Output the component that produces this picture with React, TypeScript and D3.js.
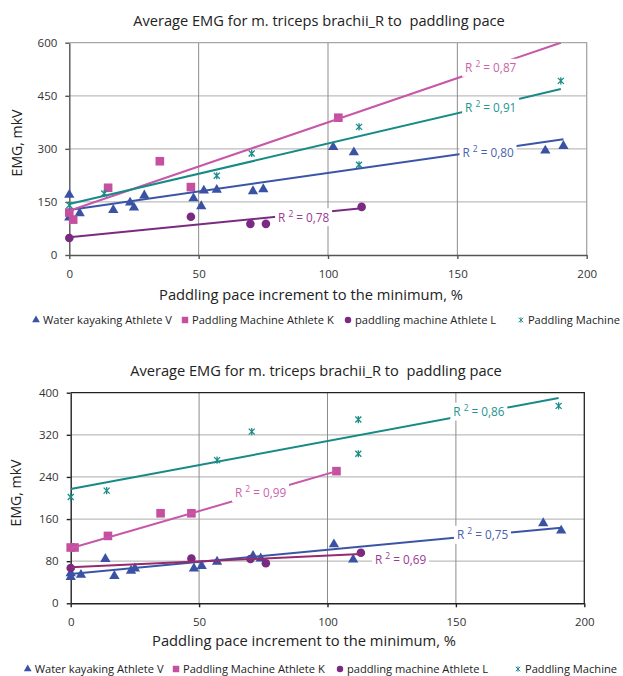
import { useEffect, useRef } from "react";
import * as d3 from "d3";

const seriesNames = ["Water kayaking Athlete V", "Paddling Machine Athlete K", "paddling machine Athlete L", "Paddling Machine"];
const xTicks = [0, 50, 100, 150, 200];
const yTicksTop = [0, 150, 300, 450, 600];
const yTicksBottom = [0, 80, 160, 240, 320, 400];
const chartTitle = "Average EMG for m. triceps brachii_R to  paddling pace";
const xTitle = "Paddling pace increment to the minimum, %";
const yTitle = "EMG, mkV";

// top chart points [pace %, EMG]
const topAthleteV = [[0, 170], [0, 106], [4, 118], [17, 127], [23.5, 148], [25, 134], [29, 168], [48, 160], [51, 138], [52, 182], [57, 184], [71, 180], [75, 186], [102, 305], [110, 290], [184, 295], [191, 308]];
const topAthleteK = [[0, 120], [1.5, 100], [15, 190], [35, 265], [47, 192], [104, 388]];
const topAthleteL = [[0, 48], [47, 108], [70, 88], [76, 88], [113, 136]];
const topMachine = [[0, 141], [13.5, 174], [57, 224], [70.5, 287], [112, 362], [112, 255], [190, 492]];
// trend lines [x0, y0, x1, y1]
const topTrends = [[0, 127, 191, 327], [0, 125, 190, 600], [0, 50, 113, 132], [0, 144, 190, 469]];
const topR2 = ["0,80", "0,87", "0,78", "0,91"];
const topLabelAt = [[152, 291], [153, 529], [80.7, 107], [153, 418]];

// bottom chart points
const botAthleteV = [[0, 50], [0, 57], [4, 54], [13.5, 84], [17, 52], [23.5, 62], [25, 66], [48, 66], [51, 71], [57, 79], [71, 90], [74, 85], [102.5, 112], [110, 83], [184, 152], [191, 138]];
const botAthleteK = [[0, 106], [1.5, 106], [14.5, 128], [35, 171], [47, 171], [103.5, 251]];
const botAthleteL = [[0, 67], [47, 85], [70, 84], [76, 76], [113, 96]];
const botMachine = [[0, 202], [14, 214], [57, 272], [70.5, 326], [112, 349], [112, 284], [190, 375]];
const botTrends = [[0, 55.6, 191, 143.6], [0, 104.4, 103.6, 251], [0, 68.3, 113, 93.6], [0, 217, 190, 390]];
const botR2 = ["0,75", "0,99", "0,69", "0,86"];
const botLabelAt = [[150.4, 130], [64, 209.5], [118.5, 84], [149, 364]];

const markerColors = ["#3a52a4", "#c550a0", "#7b2a82", "#1b8c89"];
const labelColors = ["#4a60b0", "#cc62ac", "#9a3a92", "#23958f"];
const FONT = "'Open Sans', 'Noto Sans', sans-serif";

// shrink/grow a text's font so it spans the given width
function fitWidth(sel, base, width) {
  sel.attr("font-size", base);
  const len = sel.node().getComputedTextLength();
  const size = len ? base * width / len : base;
  sel.attr("font-size", size);
  return size;
}

function marker(sel, kind, color) {
  if (kind === 0) {
    sel.append("path").attr("d", d3.symbol(d3.symbolTriangle, 46)()).attr("fill", color);
  } else if (kind === 1) {
    sel.append("rect").attr("x", -4.3).attr("y", -4.3).attr("width", 8.6).attr("height", 8.6).attr("fill", color);
  } else if (kind === 2) {
    sel.append("circle").attr("r", 4.3).attr("fill", color);
  } else {
    sel.append("path")
      .attr("d", "M-3,-3L3,3M-3,3L3,-3M0,-3.6V3.6")
      .attr("stroke", color).attr("stroke-width", 1.3).attr("fill", "none");
  }
}

function drawChart(root, cfg) {
  const g = root.append("g");
  const x = d3.scaleLinear().domain([0, 200]).range(cfg.xRange);
  const y = d3.scaleLinear().domain([0, cfg.yTicks[cfg.yTicks.length - 1]]).range(cfg.yRange);
  const top = y.range()[1];
  const clipId = "clip" + cfg.id;

  g.append("clipPath").attr("id", clipId).append("rect")
    .attr("x", x(0)).attr("y", top)
    .attr("width", x(200) - x(0)).attr("height", y(0) - top);

  // title
  const title = g.append("text")
    .attr("x", cfg.titleX).attr("y", cfg.titleY)
    .attr("text-anchor", "middle")
    .style("white-space", "pre")
    .attr("fill", "#222")
    .text(chartTitle);
  fitWidth(title, 14, 372);

  // grid
  g.selectAll(".hgrid").data(cfg.yTicks.slice(1, -1)).join("line")
    .attr("x1", x(0)).attr("x2", x(200))
    .attr("y1", d => y(d)).attr("y2", d => y(d))
    .attr("stroke", "#bdbdbd").attr("stroke-width", 1.3);
  g.selectAll(".vgrid").data(xTicks.slice(1, -1)).join("line")
    .attr("x1", d => x(d)).attr("x2", d => x(d))
    .attr("y1", y(0)).attr("y2", top)
    .attr("stroke", "#8c8c8c").attr("stroke-width", 1);
  // frame top/right
  g.append("path")
    .attr("d", `M${x(0)},${top}H${x(200)}V${y(0)}`)
    .attr("fill", "none").attr("stroke", cfg.frameColor).attr("stroke-width", 1.3);

  // axes
  const yAxis = g.append("g").attr("transform", `translate(${x(0)},0)`)
    .call(d3.axisLeft(y).tickValues(cfg.yTicks).tickSize(4).tickSizeOuter(0).tickPadding(8));
  const xAxis = g.append("g").attr("transform", `translate(0,${y(0)})`)
    .call(d3.axisBottom(x).tickValues(xTicks).tickSize(4).tickSizeOuter(0).tickPadding(11));
  [yAxis, xAxis].forEach(a => {
    a.selectAll("path, line").attr("stroke", cfg.axisColor).attr("stroke-width", 1.4);
    a.selectAll("text").attr("font-family", FONT).attr("font-size", 11.5).attr("fill", "#333");
  });

  // axis titles
  const xt = g.append("text")
    .attr("x", cfg.xTitleX).attr("y", cfg.xTitleY)
    .attr("text-anchor", "middle").attr("fill", "#222")
    .text(xTitle);
  fitWidth(xt, 14, 304);
  const yt = g.append("text")
    .attr("transform", `translate(${cfg.yTitleX},${cfg.yTitleY}) rotate(-90)`)
    .attr("text-anchor", "middle").attr("fill", "#222")
    .text(yTitle);
  fitWidth(yt, 14, 67);

  // points
  cfg.series.forEach((pts, i) => {
    g.selectAll(".pt" + i).data(pts).join("g")
      .attr("transform", d => `translate(${x(d[0])},${y(d[1])})`)
      .each(function () { marker(d3.select(this), i, markerColors[i]); });
  });

  // trend lines
  const lineColors = cfg.lineColors;
  g.append("g").attr("clip-path", `url(#${clipId})`)
    .selectAll("line").data(cfg.trends).join("line")
    .attr("x1", d => x(d[0])).attr("y1", d => y(d[1]))
    .attr("x2", d => x(d[2])).attr("y2", d => y(d[3]))
    .attr("stroke", (d, i) => lineColors[i]).attr("stroke-width", 2);

  // R² labels
  cfg.labelAt.forEach((p, i) => {
    const lg = g.append("g").attr("transform", `translate(${x(p[0])},${y(p[1])})`);
    lg.append("rect").attr("x", -3).attr("y", -9).attr("width", 57).attr("height", 18).attr("fill", "#fff");
    const t = lg.append("text").attr("y", 4.5).attr("font-size", 12.5).attr("fill", labelColors[i]);
    t.append("tspan").text("R ");
    t.append("tspan").attr("dy", -5).attr("font-size", 8.5).text("2");
    t.append("tspan").attr("dy", 5).text(" = " + cfg.r2[i]);
    fitWidth(t, 12.5, 51);
  });

  // legend
  const leg = g.selectAll(".leg").data(seriesNames).join("g");
  let legendSize = 11;
  leg.each(function (d, i) {
    const s = d3.select(this);
    const m = s.append("g").attr("transform", "scale(0.75)");
    marker(m, i, markerColors[i]);
    const t = s.append("text").attr("x", 7).attr("y", 4).attr("fill", "#222").text(d);
    if (i === 0) legendSize = fitWidth(t, 11, 129);
    t.attr("font-size", legendSize);
    // keep the last entry inside the page
    const len = t.node().getComputedTextLength();
    const lx = Math.min(cfg.legendX[i], 620 - 7 - len);
    s.attr("transform", `translate(${lx},${cfg.legendY})`);
  });
}

export default function App() {
  const svgRef = useRef(null);

  useEffect(() => {
    const svg = d3.select(svgRef.current);
    svg.selectAll("*").remove();
    svg.attr("font-family", FONT);

    drawChart(svg, {
      id: "top",
      series: [topAthleteV, topAthleteK, topAthleteL, topMachine],
      trends: topTrends, r2: topR2, labelAt: topLabelAt,
      yTicks: yTicksTop,
      xRange: [69.3, 586.7], yRange: [255, 42.7],
      frameColor: "#a6a6a6", axisColor: "#555",
      lineColors: ["#3b55a6", "#c757a8", "#7b2a82", "#178a86"],
      titleX: 319, titleY: 26,
      xTitleX: 311, xTitleY: 300,
      yTitleX: 22, yTitleY: 143,
      legendX: [36, 185, 348, 530], legendY: 320,
    });

    drawChart(svg, {
      id: "bot",
      series: [botAthleteV, botAthleteK, botAthleteL, botMachine],
      trends: botTrends, r2: botR2, labelAt: botLabelAt,
      yTicks: yTicksBottom,
      xRange: [70.7, 584.3], yRange: [603.3, 392.7],
      frameColor: "#222", axisColor: "#222",
      lineColors: ["#3b55a6", "#c757a8", "#962a6e", "#178a86"],
      titleX: 316, titleY: 376,
      xTitleX: 304, xTitleY: 646,
      yTitleX: 21, yTitleY: 493,
      legendX: [27.7, 176, 340, 518], legendY: 669,
    });
  }, []);

  return (
    <svg ref={svgRef} width={623} height={676} style={{ position: "absolute", left: 0, top: 0, background: "#fff" }} />
  );
}
